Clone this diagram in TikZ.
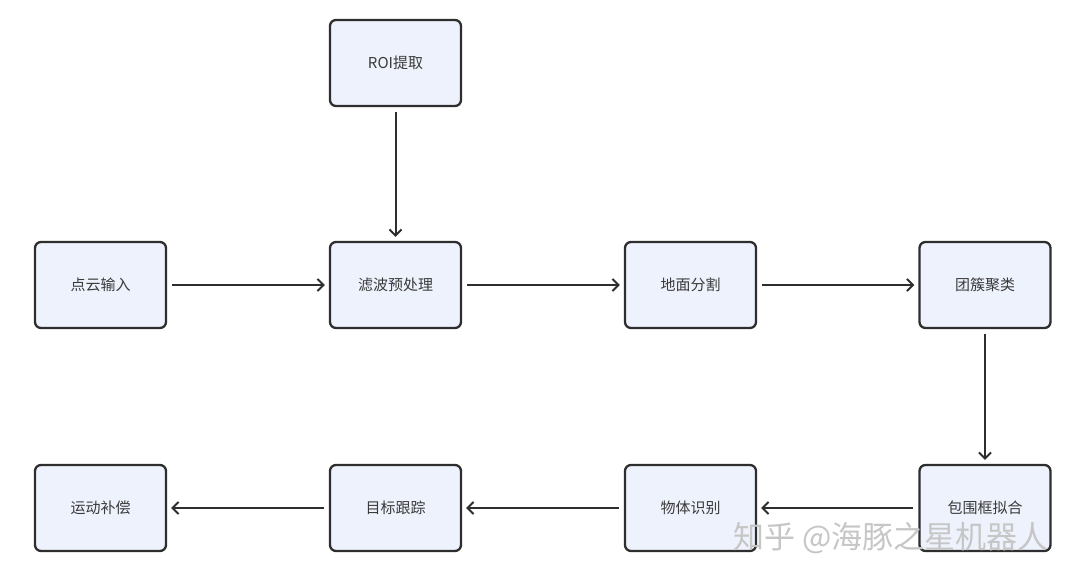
\documentclass[tikz,border=0pt]{standalone}
\usepackage{fontspec}
\newfontfamily\cjk{Noto Sans CJK SC}
\usetikzlibrary{arrows.meta}
\definecolor{boxfill}{HTML}{EEF2FC}
\definecolor{boxline}{HTML}{2E2E2E}
\definecolor{txt}{HTML}{3A3A3A}
\tikzset{
  stepbox/.style={draw=boxline, fill=boxfill, line width=2.3pt, rounded corners=6pt,
    minimum width=131pt, minimum height=86pt, inner sep=0pt,
    font=\cjk\fontsize{15}{18}\selectfont, text=txt},
  flow/.style={draw=boxline, line width=2pt, -{Straight Barb[length=6pt,width=12pt,line width=2pt]},
    shorten >=4pt, shorten <=5pt},
}
\begin{document}
\begin{tikzpicture}[x=1pt,y=-1pt]
\useasboundingbox (0,0) rectangle (1080,580);
\fill[white] (0,0) rectangle (1080,580);
\node[stepbox] (roi) at (395.5,63) {ROI提取};
\node[stepbox] (in) at (100.5,285) {点云输入};
\node[stepbox] (filt) at (395.5,285) {滤波预处理};
\node[stepbox] (gnd) at (690.5,285) {地面分割};
\node[stepbox] (clu) at (985,285) {团簇聚类};
\node[stepbox] (mot) at (100.5,508) {运动补偿};
\node[stepbox] (trk) at (395.5,508) {目标跟踪};
\node[stepbox] (obj) at (690.5,508) {物体识别};
\node[stepbox] (bbx) at (985,508) {包围框拟合};
\draw[flow] (roi) -- (filt);
\draw[flow] (in) -- (filt);
\draw[flow] (filt) -- (gnd);
\draw[flow] (gnd) -- (clu);
\draw[flow] (clu) -- (bbx);
\draw[flow] (bbx) -- (obj);
\draw[flow] (obj) -- (trk);
\draw[flow] (trk) -- (mot);
\node[font=\cjk\fontsize{31}{34}\selectfont, text=gray!45, anchor=east] (wm) at (1052,538) {知乎 @海豚之星机器人};
\end{tikzpicture}
\end{document}
